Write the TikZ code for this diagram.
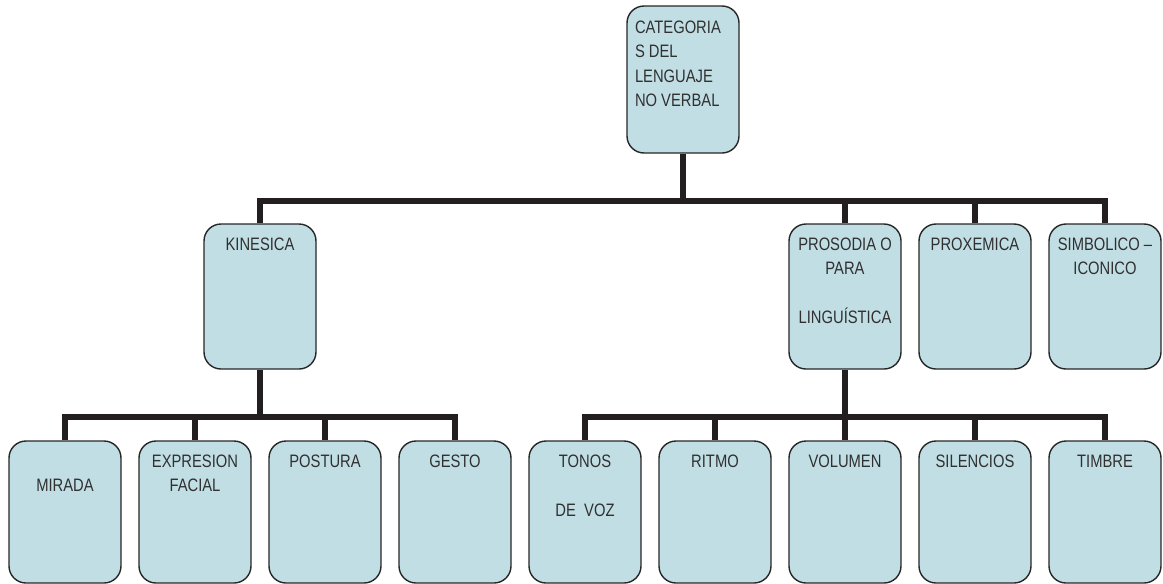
\documentclass[tikz,border=0pt]{standalone}
\usepackage{fontspec,xcolor,tikz}
\newfontfamily\angosta[FakeStretch=0.82]{Liberation Sans}
\definecolor{celeste}{HTML}{C1DEE4}
\definecolor{borde}{HTML}{262626}
\definecolor{tinta}{HTML}{303030}
\definecolor{trazo}{HTML}{231F20}
\newcommand{\rotulo}{\angosta\fontsize{18}{24.5}\selectfont}
\newcommand{\cajatxt}[2]{\parbox[c][#1][t]{104pt}{\centering\rule{0pt}{26pt}#2}}
\tikzset{caja/.style={draw=borde,fill=celeste,line width=1.4pt,rounded corners=17pt,
    minimum width=112pt,inner xsep=4pt,inner ysep=0pt,text=tinta,font=\rotulo},
  enlace/.style={trazo,line width=6pt}}

\begin{document}
\begin{tikzpicture}[x=1pt,y=-1pt]
\useasboundingbox (0,0) rectangle (1163,584);
\node[caja,inner xsep=8pt] (raiz) at (683,79.5) {\parbox[c][147pt][t]{96pt}{\raggedright\rule{0pt}{27pt}CATEGORIA\\S DEL\\LENGUAJE\\NO VERBAL}};
\node[caja] (kinesica) at (260,296.5) {\cajatxt{145pt}{KINESICA}};
\node[caja] (prosodia) at (845,296.5) {\cajatxt{145pt}{PROSODIA O\\PARA\\[24.5pt]LINGUÍSTICA}};
\node[caja] (proxemica) at (975,296.5) {\cajatxt{145pt}{PROXEMICA}};
\node[caja] (simbolico) at (1105,296.5) {\cajatxt{145pt}{SIMBOLICO –\\ICONICO}};
\node[caja] (mirada) at (65,512) {\cajatxt{142pt}{\mbox{}\\MIRADA}};
\node[caja] (expresion) at (195,512) {\cajatxt{142pt}{EXPRESION\\FACIAL}};
\node[caja] (postura) at (325,512) {\cajatxt{142pt}{POSTURA}};
\node[caja] (gesto) at (455,512) {\cajatxt{142pt}{GESTO}};
\node[caja] (tonos) at (585,512) {\cajatxt{142pt}{TONOS\\[24.5pt]DE~~VOZ}};
\node[caja] (ritmo) at (715,512) {\cajatxt{142pt}{RITMO}};
\node[caja] (volumen) at (845,512) {\cajatxt{142pt}{VOLUMEN}};
\node[caja] (silencios) at (975,512) {\cajatxt{142pt}{SILENCIOS}};
\node[caja] (timbre) at (1105,512) {\cajatxt{142pt}{TIMBRE}};
\coordinate (bus1) at (683,201);
\coordinate (bus2) at (260,417);
\coordinate (bus3) at (845,417);
\draw[enlace] (raiz.south) -- (bus1);
\draw[enlace] (kinesica.north) |- (bus1) -| (simbolico.north);
\draw[enlace] (prosodia.north) -- (prosodia.north |- bus1);
\draw[enlace] (proxemica.north) -- (proxemica.north |- bus1);
\draw[enlace] (kinesica.south) -- (bus2);
\draw[enlace] (mirada.north) |- (bus2) -| (gesto.north);
\draw[enlace] (expresion.north) -- (expresion.north |- bus2);
\draw[enlace] (postura.north) -- (postura.north |- bus2);
\draw[enlace] (prosodia.south) -- (bus3);
\draw[enlace] (tonos.north) |- (bus3) -| (timbre.north);
\draw[enlace] (ritmo.north) -- (ritmo.north |- bus3);
\draw[enlace] (volumen.north) -- (bus3);
\draw[enlace] (silencios.north) -- (silencios.north |- bus3);
\end{tikzpicture}
\end{document}
